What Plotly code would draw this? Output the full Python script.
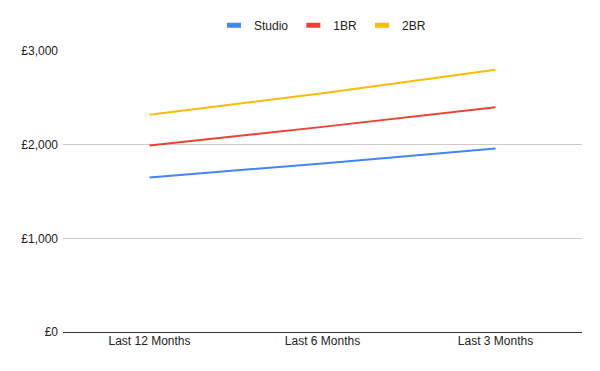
import plotly.graph_objects as go

categories = ["Last 12 Months", "Last 6 Months", "Last 3 Months"]
studio = [1650, 1800, 1960]
one_br = [1990, 2190, 2400]
two_br = [2320, 2550, 2800]
y_ticks = [0, 1000, 2000, 3000]
y_tick_labels = ["£0", "£1,000", "£2,000", "£3,000"]

series = [("Studio", studio, "#4285F4"), ("1BR", one_br, "#EA4335"), ("2BR", two_br, "#FBBC04")]

fig = go.Figure()
for name, vals, color in series:
    fig.add_trace(go.Scatter(x=categories, y=vals, name=name, mode="lines",
                             line=dict(color=color, width=2), showlegend=False,
                             legendgroup=name))
    # legend entry styled like a short thick bar
    fig.add_trace(go.Scatter(x=[None], y=[None], name=name, mode="markers",
                             legendgroup=name,
                             marker=dict(symbol="line-ew", size=10,
                                         line=dict(color=color, width=5))))

fig.update_layout(
    width=600, height=371,
    margin=dict(l=63, r=18, t=51, b=39, autoexpand=False),
    paper_bgcolor="white", plot_bgcolor="white",
    font=dict(family="Liberation Sans, Arial, sans-serif", size=12, color="#222222"),
    legend=dict(orientation="h", x=0.5, xanchor="center", y=0.932, yanchor="middle",
                yref="container", font=dict(size=12, color="#222222"),
                itemwidth=30),
    showlegend=True,
)
fig.update_xaxes(type="category", range=[-0.5, 2.5], showgrid=False, showline=False,
                 ticks="", automargin=False, tickfont=dict(size=12, color="#222222"))
fig.update_yaxes(range=[0, 3000], tickvals=y_ticks, ticktext=y_tick_labels,
                 showgrid=True, gridcolor="#cccccc", gridwidth=1,
                 zeroline=True, zerolinecolor="#333333", zerolinewidth=1,
                 ticks="", automargin=False, ticklabelstandoff=4,
                 tickfont=dict(size=12, color="#222222"))

fig.write_html("out.html", config={"displayModeBar": False},
               post_script="document.body.style.margin='0';")
